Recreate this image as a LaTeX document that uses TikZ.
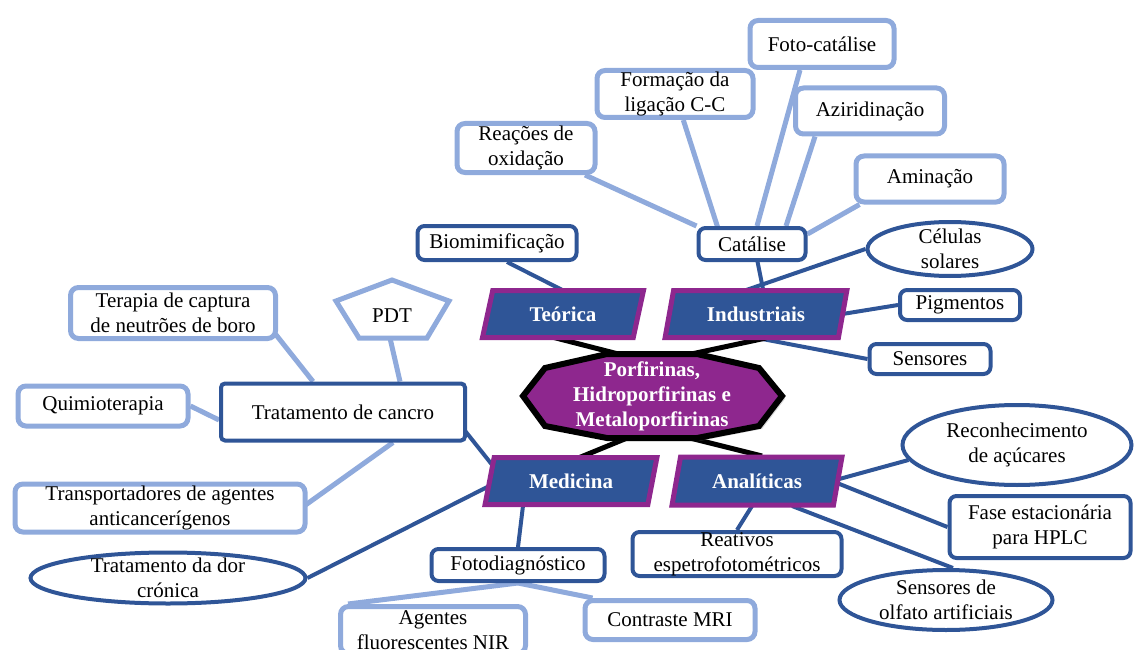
\documentclass[tikz,border=0pt]{standalone}
\usepackage{fontspec}
\setmainfont{Liberation Serif}
\usetikzlibrary{shapes.geometric,calc,shadows,backgrounds}
\definecolor{dblue}{HTML}{2F5597}
\definecolor{lblue}{HTML}{8FAADC}
\definecolor{purp}{HTML}{8E278E}
\begin{document}
\begin{tikzpicture}[x=1pt,y=-1pt,font=\fontsize{21}{25}\selectfont,
  dbox/.style={draw=dblue,line width=4pt,fill=white,rounded corners=7pt,align=center,inner sep=0pt},
  lbox/.style={draw=lblue,line width=5pt,fill=white,rounded corners=8pt,align=center,inner sep=0pt},
  dell/.style={ellipse,draw=dblue,line width=4pt,fill=white,align=center,inner sep=0pt},
  para/.style={trapezium,trapezium left angle=76,trapezium right angle=104,trapezium stretches=true,
    draw=purp,line width=5pt,fill=dblue,text=white,font=\fontsize{21}{25}\selectfont\bfseries},
  dline/.style={draw=dblue,line width=4pt},
  lline/.style={draw=lblue,line width=5pt},
  bline/.style={draw=black,line width=5pt}]
\useasboundingbox (0,0) rectangle (1135,650);

% central hub
\coordinate (core) at (652,396);
\path[draw=black,line width=6pt,fill=purp,
  drop shadow={opacity=0.3,shadow xshift=3pt,shadow yshift=-3pt}]
  ($(core)+(-129,0)$) -- ($(core)+(-107,-28)$) -- ($(core)+(-45,-42)$) -- ($(core)+(45,-42)$)
  -- ($(core)+(107,-28)$) -- ($(core)+(130,0)$) -- ($(core)+(107,30)$) -- ($(core)+(45,42)$)
  -- ($(core)+(-45,42)$) -- ($(core)+(-107,30)$) -- cycle;
\node[text=white,font=\fontsize{21}{25}\selectfont\bfseries,align=center,inner sep=0pt] (hub) at (core)
  {Porfirinas,\\Hidroporfirinas e\\Metaloporfirinas};

% category parallelograms
\node[para,minimum width=162pt,minimum height=47pt] (teo) at (563,314) {Teórica};
\node[para,minimum width=182pt,minimum height=47pt] (ind) at (756,314) {Industriais};
\node[para,minimum width=172pt,minimum height=47pt] (med) at (571,481) {Medicina};
\node[para,minimum width=170pt,minimum height=48pt] (ana) at (757,481) {Analíticas};

% dark blue boxes
\node[dbox,minimum width=159pt,minimum height=34pt] (bio) at (497,243) {Biomimificação};
\node[dbox,minimum width=107pt,minimum height=32pt] (cat) at (752,244) {Catálise};
\node[dbox,minimum width=120pt,minimum height=30pt] (pig) at (960,305) {Pigmentos};
\node[dbox,minimum width=121pt,minimum height=30pt] (sen) at (930,359) {Sensores};
\node[dbox,rounded corners=4pt,minimum width=244pt,minimum height=57pt] (trat) at (343,412) {Tratamento de cancro};
\node[dbox,minimum width=173pt,minimum height=32pt] (fdg) at (518,565) {Fotodiagnóstico};
\node[dbox,minimum width=209pt,minimum height=44pt] (rea) at (737,554) {Reativos\\espetrofotométricos};
\node[dbox,minimum width=181pt,minimum height=62pt] (fase) at (1040,527) {Fase estacionária\\para HPLC};

% dark blue ellipses
\node[dell,minimum width=165pt,minimum height=54pt,inner ysep=-4pt] (cel) at (950,249) {Células\\solares};
\node[dell,minimum width=275pt,minimum height=51pt,inner ysep=-6pt] (dor) at (168,578) {Tratamento da dor\\crónica};
\node[dell,minimum width=229pt,minimum height=80pt] (rec) at (1017,445) {Reconhecimento\\de açúcares};
\node[dell,minimum width=213pt,minimum height=60pt,inner ysep=-2pt] (olf) at (946,600) {Sensores de\\olfato artificiais};

% light blue boxes
\node[lbox,minimum width=144pt,minimum height=47pt] (fcat) at (822,44) {Foto-catálise};
\node[lbox,minimum width=156pt,minimum height=47pt] (form) at (675,94) {Formação da\\ligação C-C};
\node[lbox,minimum width=149pt,minimum height=46pt] (azi) at (870,111) {Aziridinação};
\node[lbox,minimum width=138pt,minimum height=49pt] (reac) at (526,148) {Reações de\\oxidação};
\node[lbox,minimum width=148pt,minimum height=46pt] (amin) at (930,179) {Aminação};
\node[lbox,minimum width=205pt,minimum height=51pt] (ter) at (173,313) {Terapia de captura\\de neutrões de boro};
\node[lbox,minimum width=170pt,minimum height=40pt] (qui) at (103,406) {Quimioterapia};
\node[lbox,minimum width=290pt,minimum height=48pt] (tra) at (160,508) {Transportadores de agentes\\anticancerígenos};
\node[lbox,minimum width=185pt,minimum height=47pt] (age) at (433,630) {Agentes\\fluorescentes NIR};
\node[lbox,minimum width=170pt,minimum height=39pt] (con) at (670,620) {Contraste MRI};

% PDT pentagon
\coordinate (pdtc) at (392,312);
\path[draw=lblue,line width=5pt,fill=white]
  ($(pdtc)+(0,-32)$) -- ($(pdtc)+(57,-11)$) -- ($(pdtc)+(35,26)$) -- ($(pdtc)+(-33,26)$) -- ($(pdtc)+(-56,-11)$) -- cycle;
\node[inner sep=0pt] (pdt) at (392,316) {PDT};

\begin{scope}[on background layer]
  % light connectors
  \path[lline] (reac) -- (cat.north west);
  \path[lline] (form) -- ($(cat)+(-29,0)$);
  \path[lline] ($(fcat.south)+(-22,0)$) -- ($(cat.north)+(5,0)$);
  \path[lline] ($(azi.south)+(-55,0)$) -- ($(cat.north)+(34,0)$);
  \path[lline] ($(amin.south west)+(6,0)$) -- ($(cat.east)+(0,-10)$);
  \path[lline] ($(ter.south east)+(-5,-10)$) -- ($(trat.north)+(-30,0)$);
  \path[lline] ($(pdt)+(-8,-4)$) -- ($(trat.north)+(57,0)$);
  \path[lline] (qui.east) -- ($(trat.west)+(0,8)$);
  \path[lline] ($(tra.east)+(-2,-3)$) -- ($(trat.south)+(50,0)$);
  \path[lline] (fdg.south) -- ($(age.north west)+(10,0)$);
  \path[lline] (fdg.south) -- ($(con.north west)+(10,0)$);
  % dark connectors
  \path[dline] ($(bio.south)+(10,0)$) -- ($(teo)+(19,-14)$);
  \path[dline] ($(cat)+(2,0)$) -- ($(ind)+(12,0)$);
  \path[dline] (cel.west) -- ($(ind)+(-30,-17)$);
  \path[dline] (pig.west) -- ($(ind)+(0,14)$);
  \path[dline] (sen.west) -- ($(ind)+(-20,20)$);
  \path[dline] ($(trat.east)+(-5,15)$) -- ($(med)+(-70,-5)$);
  \path[dline] (dor.east) -- ($(med)+(-60,-6)$);
  \path[dline] ($(med)+(-45,0)$) -- (fdg.north);
  \path[dline] ($(ana)+(-5,25)$) -- (rea.north);
  \path[dline] ($(ana)+(75,0)$) -- ($(rec.west)+(8,15)$);
  \path[dline] ($(ana)+(75,0)$) -- (fase.west);
  \path[dline] ($(ana)+(35,25)$) -- ($(olf.north)+(7,0)$);
  % black connectors
  \path[bline] ($(teo)+(-11,23)$) -- ($(core)+(-22,-39)$);
  \path[bline] ($(core)+(30,-40)$) -- ($(ind)+(10,24)$);
  \path[bline] ($(core)+(-20,40)$) -- ($(med)+(0,-20)$);
  \path[bline] ($(core)+(30,40)$) -- ($(ana)+(5,-25)$);
\end{scope}
\end{tikzpicture}
\end{document}
